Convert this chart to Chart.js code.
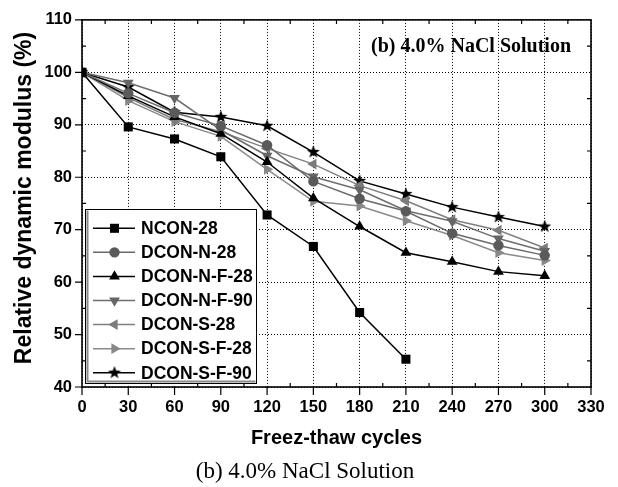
<!DOCTYPE html>
<html><head><meta charset="utf-8">
<script src="https://cdn.jsdelivr.net/npm/chart.js@4.4.1/dist/chart.umd.min.js"></script>
<style>html,body{margin:0;padding:0;background:#fff;overflow:hidden}canvas{display:block}</style>
</head><body>
<canvas id="c" width="618" height="487"></canvas>
<script>
// ---------- data ----------
const cycles = [0, 30, 60, 90, 120, 150, 180, 210, 240, 270, 300];
const seriesNames = ['NCON-28', 'DCON-N-28', 'DCON-N-F-28', 'DCON-N-F-90', 'DCON-S-28', 'DCON-S-F-28', 'DCON-S-F-90'];
const ncon28   = [100, 89.6, 87.3, 83.9, 72.8, 66.8, 54.2, 45.3];
const dconN28  = [100, 96.0, 92.3, 89.8, 86.1, 79.2, 75.9, 73.5, 69.3, 67.0, 65.1];
const dconNF28 = [100, 95.5, 91.5, 88.3, 82.9, 76.0, 70.6, 65.6, 63.9, 62.0, 61.2];
const dconNF90 = [100, 98.0, 95.1, 89.0, 84.1, 80.1, 77.6, 73.6, 71.6, 68.3, 65.9];
const dconS28  = [100, 95.2, 91.0, 88.7, 85.5, 82.5, 78.4, 75.5, 71.9, 69.9, 66.5];
const dconSF28 = [100, 94.6, 90.6, 87.8, 81.5, 75.4, 74.5, 71.7, 68.9, 65.6, 64.1];
const dconSF90 = [100, 97.2, 92.4, 91.5, 89.8, 84.8, 79.3, 76.8, 74.3, 72.4, 70.6];
const xTickValues = [0, 30, 60, 90, 120, 150, 180, 210, 240, 270, 300, 330];
const yTickValues = [40, 50, 60, 70, 80, 90, 100, 110];
const xTitle = 'Freez-thaw cycles';
const yTitle = 'Relative dynamic modulus (%)';
const innerTitle = '(b) 4.0% NaCl Solution';
const caption = '(b) 4.0% NaCl Solution';

// ---------- styles ----------
const SANS = "'Liberation Sans', Arial, Helvetica, sans-serif";
const SERIF = "'Liberation Serif', 'Times New Roman', serif";

function makeStar(r, color) {
  const s = Math.ceil(r * 2 + 2);
  const cv = document.createElement('canvas');
  cv.width = s; cv.height = s;
  const g = cv.getContext('2d');
  g.fillStyle = color;
  g.beginPath();
  for (let i = 0; i < 10; i++) {
    const rad = (i % 2 === 0) ? r : r * 0.42;
    const a = -Math.PI / 2 + i * Math.PI / 5;
    const px = s / 2 + rad * Math.cos(a), py = s / 2 + rad * Math.sin(a);
    if (i === 0) g.moveTo(px, py); else g.lineTo(px, py);
  }
  g.closePath(); g.fill();
  return cv;
}
const starImg = makeStar(6.8, '#000');

const styles = [
  { line: '#000',    fill: '#000',    style: 'rect',     rot: 0,   r: 6.4 },
  { line: '#6a6a6a', fill: '#5a5a5a', style: 'circle',   rot: 0,   r: 5.2 },
  { line: '#000',    fill: '#000',    style: 'triangle', rot: 0,   r: 6.2 },
  { line: '#6e6e6e', fill: '#666',    style: 'triangle', rot: 180, r: 6.2 },
  { line: '#808080', fill: '#7c7c7c', style: 'triangle', rot: 270, r: 6.2 },
  { line: '#8a8a8a', fill: '#888',    style: 'triangle', rot: 90,  r: 6.2 },
  { line: '#000',    fill: '#000',    style: starImg,    rot: 0,   r: 6.8 }
];
const seriesValues = [ncon28, dconN28, dconNF28, dconNF90, dconS28, dconSF28, dconSF90];

const datasets = seriesValues.map((vals, i) => ({
  label: seriesNames[i],
  data: vals.map((v, k) => ({ x: cycles[k], y: v })),
  borderColor: styles[i].line,
  backgroundColor: styles[i].fill,
  pointBackgroundColor: styles[i].fill,
  pointBorderColor: styles[i].fill,
  pointBorderWidth: 0,
  pointStyle: styles[i].style,
  pointRotation: styles[i].rot,
  pointRadius: styles[i].r,
  pointHoverRadius: styles[i].r,
  borderWidth: 1.5,
  tension: 0,
  fill: false
}));

// ---------- legend marker ----------
function drawMarker(ctx, st, x, y) {
  ctx.save();
  ctx.fillStyle = st.fill;
  if (typeof st.style !== 'string') {
    ctx.drawImage(st.style, x - st.style.width / 2, y - st.style.height / 2);
    ctx.restore(); return;
  }
  ctx.beginPath();
  if (st.style === 'rect') {
    const h = st.r * Math.SQRT1_2;
    ctx.rect(x - h, y - h, 2 * h, 2 * h);
  } else if (st.style === 'circle') {
    ctx.arc(x, y, st.r, 0, Math.PI * 2);
  } else {
    let a = st.rot * Math.PI / 180;
    for (let k = 0; k < 3; k++) {
      const px = x + Math.sin(a) * st.r, py = y - Math.cos(a) * st.r;
      if (k === 0) ctx.moveTo(px, py); else ctx.lineTo(px, py);
      a += Math.PI * 2 / 3;
    }
    ctx.closePath();
  }
  ctx.fill();
  ctx.restore();
}

const decor = {
  id: 'decor',
  afterDraw(chart) {
    const ctx = chart.ctx;
    const a = chart.chartArea;
    const xs = chart.scales.x, ys = chart.scales.y;
    ctx.save();
    // frame
    ctx.strokeStyle = '#000';
    ctx.lineWidth = 1.6;
    ctx.strokeRect(a.left, a.top, a.right - a.left, a.bottom - a.top);
    // ticks
    ctx.lineWidth = 1.2;
    ctx.beginPath();
    xTickValues.forEach(v => {
      const px = xs.getPixelForValue(v);
      ctx.moveTo(px, a.bottom); ctx.lineTo(px, a.bottom + 8);
    });
    yTickValues.forEach(v => {
      const py = ys.getPixelForValue(v);
      ctx.moveTo(a.left, py); ctx.lineTo(a.left - 7, py);
    });
    for (let i = 0; i < xTickValues.length - 1; i++) {
      const px = xs.getPixelForValue((xTickValues[i] + xTickValues[i + 1]) / 2);
      ctx.moveTo(px, a.bottom); ctx.lineTo(px, a.bottom - 4);
      ctx.moveTo(px, a.top); ctx.lineTo(px, a.top + 4);
    }
    for (let i = 0; i < yTickValues.length - 1; i++) {
      const py = ys.getPixelForValue((yTickValues[i] + yTickValues[i + 1]) / 2);
      ctx.moveTo(a.left, py); ctx.lineTo(a.left + 4, py);
      ctx.moveTo(a.right, py); ctx.lineTo(a.right - 4, py);
    }
    ctx.stroke();

    // y-axis title
    ctx.fillStyle = '#000';
    ctx.save();
    ctx.translate(25, 198);
    ctx.rotate(-Math.PI / 2);
    ctx.font = 'bold 23px ' + SANS;
    ctx.textAlign = 'center';
    ctx.textBaseline = 'middle';
    ctx.fillText(yTitle, 0, 0);
    ctx.restore();

    // inner title
    ctx.font = 'bold 20px ' + SERIF;
    ctx.textBaseline = 'alphabetic';
    ctx.textAlign = 'left';
    ctx.fillText(innerTitle, 371, 52);

    // caption
    ctx.font = '23px ' + SERIF;
    ctx.textAlign = 'center';
    ctx.fillText(caption, 305, 478);

    // legend
    const lx = 85.5, ly = 209.5, lw = 171, lh = 174;
    ctx.fillStyle = '#fff';
    ctx.fillRect(lx, ly, lw, lh);
    ctx.strokeStyle = '#8a8a8a';
    ctx.lineWidth = 2;
    ctx.beginPath();
    ctx.moveTo(lx + 2, ly + 1); ctx.lineTo(lx + 2, ly + lh - 2); ctx.lineTo(lx + lw - 1, ly + lh - 2);
    ctx.stroke();
    ctx.strokeStyle = '#000';
    ctx.lineWidth = 1;
    ctx.strokeRect(lx, ly, lw, lh);
    ctx.font = 'bold 17.5px ' + SANS;
    ctx.textAlign = 'left';
    ctx.textBaseline = 'middle';
    seriesNames.forEach((name, i) => {
      const y = 228.3 + i * 24.07;
      const st = styles[i];
      ctx.strokeStyle = st.line;
      ctx.lineWidth = 1.5;
      ctx.beginPath();
      ctx.moveTo(93, y); ctx.lineTo(135, y);
      ctx.stroke();
      drawMarker(ctx, st, 114.5, y);
      ctx.fillStyle = '#000';
      ctx.fillText(name, 141, y + 1);
    });
    ctx.restore();
  }
};

new Chart(document.getElementById('c'), {
  type: 'line',
  data: { datasets },
  options: {
    responsive: false,
    animation: false,
    events: [],
    layout: { padding: { top: 18, right: 27, left: 0, bottom: 0 } },
    plugins: { legend: { display: false }, title: { display: false }, tooltip: { enabled: false } },
    scales: {
      x: {
        type: 'linear', min: 0, max: 330,
        afterFit: s => { s.height = 100; },
        afterBuildTicks: s => { s.ticks = xTickValues.map(v => ({ value: v })); },
        ticks: { color: '#000', padding: 10.5, maxRotation: 0, autoSkip: false,
                 font: { family: SANS, size: 16.5, weight: 'bold' } },
        grid: { color: '#000', lineWidth: 1, drawTicks: false },
        border: { display: false, dash: [1, 2] },
        title: { display: true, text: xTitle, color: '#000',
                 font: { family: SANS, size: 20, weight: 'bold' }, padding: { top: 0, bottom: 37 } }
      },
      y: {
        type: 'linear', min: 40, max: 110,
        afterFit: s => { s.width = 82; },
        afterBuildTicks: s => { s.ticks = yTickValues.map(v => ({ value: v })); },
        ticks: { color: '#000', padding: 10, autoSkip: false,
                 font: { family: SANS, size: 16.5, weight: 'bold' } },
        grid: { color: '#000', lineWidth: 1, drawTicks: false },
        border: { display: false, dash: [1, 2] },
        title: { display: false }
      }
    }
  },
  plugins: [decor]
});
</script>
</body></html>
